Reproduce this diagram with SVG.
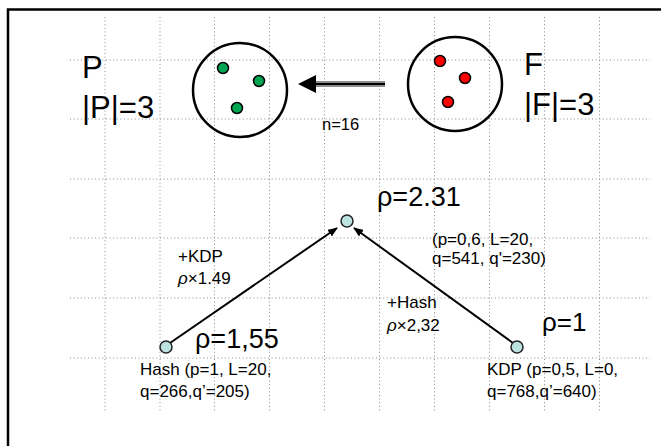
<svg xmlns="http://www.w3.org/2000/svg" width="661" height="446" viewBox="0 0 661 446">
<style>
.grid line{stroke:#8a8a8a;stroke-width:1;stroke-dasharray:1 2.6}
.t{font-family:"Liberation Sans",Arial,sans-serif;fill:#000}
.big{font-size:31px}
.rho{font-size:27px}
.lbl{font-size:17px}
.set{fill:none;stroke:#000;stroke-width:2.5}
.node{fill:#bde2e2;stroke:#222;stroke-width:1.5}
.g{fill:#00a651;stroke:#000;stroke-width:1.5}
.r{fill:#ff0000;stroke:#000;stroke-width:1.5}
.conn{stroke:#000;stroke-width:2;fill:none}
</style>
<defs>
<marker id="ah" markerWidth="10" markerHeight="8" refX="9" refY="4" orient="auto" markerUnits="userSpaceOnUse">
<path d="M0,0 L10,4 L0,8 Z" fill="#000"/>
</marker>
</defs>
<rect x="0" y="0" width="661" height="446" fill="#fff"/>
<rect x="8" y="9.5" width="700" height="500" fill="none" stroke="#000" stroke-width="2.5"/>
<g class="grid">
<line x1="70" y1="60" x2="650" y2="60"/>
<line x1="70" y1="119" x2="650" y2="119"/>
<line x1="70" y1="179" x2="650" y2="179"/>
<line x1="70" y1="238" x2="650" y2="238"/>
<line x1="70" y1="298" x2="650" y2="298"/>
<line x1="70" y1="358" x2="650" y2="358"/>
<line x1="105" y1="17" x2="105" y2="412"/>
<line x1="160" y1="17" x2="160" y2="412"/>
<line x1="214.5" y1="17" x2="214.5" y2="412"/>
<line x1="269.5" y1="17" x2="269.5" y2="412"/>
<line x1="324.5" y1="17" x2="324.5" y2="412"/>
<line x1="379.5" y1="17" x2="379.5" y2="412"/>
<line x1="434.5" y1="17" x2="434.5" y2="412"/>
<line x1="489.5" y1="17" x2="489.5" y2="412"/>
<line x1="544.5" y1="17" x2="544.5" y2="412"/>
<line x1="599.5" y1="17" x2="599.5" y2="412"/>
</g>
<g id="setP">
<circle class="set" cx="240" cy="90" r="47"/>
<circle class="g" cx="223" cy="68" r="5.5"/>
<circle class="g" cx="259" cy="81" r="5.5"/>
<circle class="g" cx="237" cy="108" r="5.5"/>
<text class="t big" x="82" y="78">P</text>
<text class="t big" x="82" y="118">|P|=3</text>
</g>
<g id="setF">
<circle class="set" cx="455" cy="84" r="47"/>
<circle class="r" cx="440" cy="61" r="5.5"/>
<circle class="r" cx="465" cy="78" r="5.5"/>
<circle class="r" cx="448" cy="102" r="5.5"/>
<text class="t big" x="524" y="75">F</text>
<text class="t big" x="524" y="115">|F|=3</text>
</g>
<g id="mapping">
<line x1="313" y1="84" x2="385" y2="84" stroke="#8c8c8c" stroke-width="6"/>
<line x1="313" y1="84" x2="385" y2="84" stroke="#000" stroke-width="2"/>
<path d="M298,84 L316,75 L316,93 Z" fill="#000"/>
<text class="t" x="322" y="130" font-size="16.5">n=16</text>
</g>
<g id="connectors">
<line class="conn" x1="170" y1="343" x2="337" y2="228" marker-end="url(#ah)"/>
<line class="conn" x1="513" y1="343" x2="354" y2="228" marker-end="url(#ah)"/>
<text class="t lbl" x="178" y="262">+KDP</text>
<text class="t lbl" x="178" y="284"><tspan font-style="italic">ρ</tspan>×1.49</text>
<text class="t lbl" x="387" y="308">+Hash</text>
<text class="t lbl" x="387" y="331"><tspan font-style="italic">ρ</tspan>×2,32</text>
</g>
<g id="nodeTop">
<circle class="node" cx="347" cy="221" r="6"/>
<text class="t rho" x="377" y="206">ρ=2.31</text>
<text class="t lbl" x="432" y="245">(p=0,6, L=20,</text>
<text class="t lbl" x="432" y="264">q=541, q'=230)</text>
</g>
<g id="nodeHash">
<circle class="node" cx="166" cy="347" r="6"/>
<text class="t rho" x="195" y="348">ρ=1,55</text>
<text class="t lbl" x="140" y="375">Hash (p=1, L=20,</text>
<text class="t lbl" x="140" y="397">q=266,q’=205)</text>
</g>
<g id="nodeKDP">
<circle class="node" cx="517" cy="347" r="6"/>
<text class="t" x="542" y="331" font-size="26">ρ=1</text>
<text class="t lbl" x="487" y="375">KDP (p=0,5, L=0,</text>
<text class="t lbl" x="487" y="397">q=768,q’=640)</text>
</g>
</svg>
